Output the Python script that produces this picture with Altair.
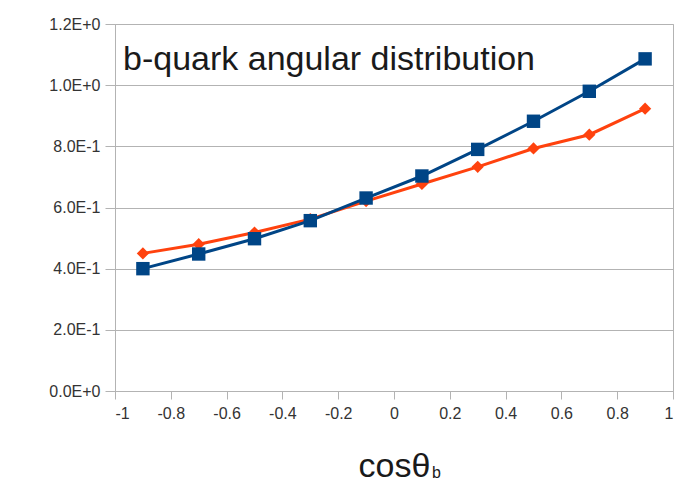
import altair as alt
import pandas as pd

# data
cos_theta = [-0.9, -0.7, -0.5, -0.3, -0.1, 0.1, 0.3, 0.5, 0.7, 0.9]
blue_vals = [0.40, 0.448, 0.498, 0.557, 0.631, 0.703, 0.790, 0.882, 0.980, 1.086]
orange_vals = [0.450, 0.480, 0.518, 0.562, 0.621, 0.677, 0.733, 0.793, 0.838, 0.923]
x_ticks = [-1, -0.8, -0.6, -0.4, -0.2, 0, 0.2, 0.4, 0.6, 0.8, 1]
y_ticks = [0, 0.2, 0.4, 0.6, 0.8, 1.0, 1.2]
title_text = "b-quark angular distribution"
x_title = "cosθ"
x_sub = "b"

BLUE = "#004586"
ORANGE = "#ff420e"
GRID = "#b3b3b3"
FONT = "Liberation Sans"

blue_df = pd.DataFrame({"x": cos_theta, "y": blue_vals})
orange_df = pd.DataFrame({"x": cos_theta, "y": orange_vals})

x_enc = alt.X(
    "x:Q",
    scale=alt.Scale(domain=[-1, 1], nice=False, zero=False),
    axis=alt.Axis(
        values=x_ticks,
        labelExpr="datum.value + ''",
        title=x_title,
        titleFontSize=34,
        titleFont=FONT,
        titleFontWeight="normal",
        titleColor="#1a1a1a",
        titleBaseline="alphabetic",
        titleY=85,
        grid=False,
        tickSize=8,
        labelPadding=6,
        labelFontSize=16,
    ),
)
y_enc = alt.Y(
    "y:Q",
    scale=alt.Scale(domain=[0, 1.2], nice=False),
    axis=alt.Axis(
        values=y_ticks,
        labelExpr="replace(format(datum.value, '.1e'), 'e', 'E')",
        title=None,
        grid=True,
        tickSize=10,
        labelPadding=5,
        labelFontSize=16,
    ),
)

orange_line = alt.Chart(orange_df).mark_line(color=ORANGE, strokeWidth=3).encode(x=x_enc, y=y_enc)
orange_pts = alt.Chart(orange_df).mark_point(
    shape="diamond", filled=True, size=150, color=ORANGE, opacity=1
).encode(x=x_enc, y=y_enc)
blue_line = alt.Chart(blue_df).mark_line(color=BLUE, strokeWidth=3).encode(x=x_enc, y=y_enc)
blue_pts = alt.Chart(blue_df).mark_point(
    shape="square", filled=True, size=180, color=BLUE, opacity=1
).encode(x=x_enc, y=y_enc)

one = pd.DataFrame({"a": [0]})
title_mark = alt.Chart(one).mark_text(
    align="left", baseline="alphabetic", fontSize=34, font=FONT, color="#1a1a1a"
).encode(x=alt.value(8), y=alt.value(46), text=alt.value(title_text))
sub_mark = alt.Chart(one).mark_text(
    align="left", baseline="alphabetic", fontSize=16, font=FONT, color="#1a1a1a"
).encode(x=alt.value(317), y=alt.value(454), text=alt.value(x_sub))

chart = (
    alt.layer(orange_line, orange_pts, blue_line, blue_pts, title_mark, sub_mark)
    .properties(
        width=558,
        height=367,
        autosize=alt.AutoSizeParams(type="none"),
        padding={"left": 107, "top": 16, "right": 11, "bottom": 92},
        background="white",
    )
    .configure_view(stroke=GRID, strokeWidth=1)
    .configure_axis(
        domainColor=GRID,
        tickColor=GRID,
        gridColor=GRID,
        labelColor="#333333",
        labelFont=FONT,
        domainWidth=1,
        tickWidth=1,
        gridWidth=1,
    )
)

chart.save("out.html", embed_options={"renderer": "svg", "actions": False})
